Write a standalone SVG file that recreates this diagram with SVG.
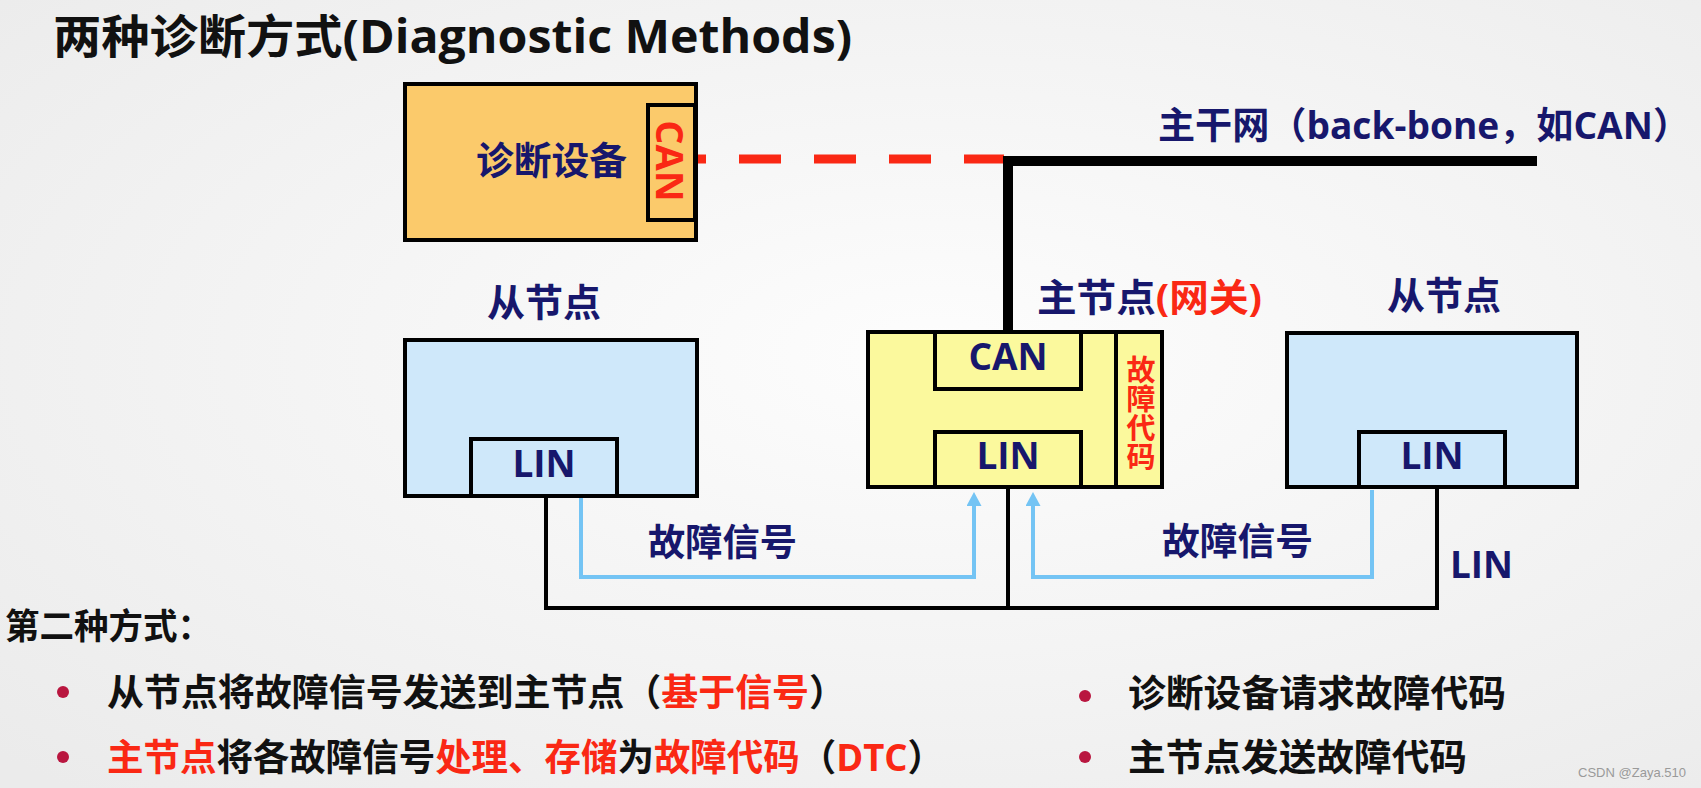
<svg xmlns="http://www.w3.org/2000/svg" width="1701" height="788" viewBox="0 0 1701 788">
<defs>
<radialGradient id="bg" cx="0.55" cy="0.45" r="0.75">
<stop offset="0" stop-color="#fdfdfd"/>
<stop offset="1" stop-color="#ebebeb"/>
</radialGradient>
<marker id="ah" markerUnits="userSpaceOnUse" markerWidth="16" markerHeight="16" refX="0" refY="7.5" orient="auto">
<path d="M0,0 L14,7.5 L0,15 Z" fill="#74c4f4"/>
</marker>
<style>
.t{font-family:"Open Sans","Noto Sans CJK SC",sans-serif;font-weight:bold}
.cjk{font-family:"Noto Sans CJK SC","Open Sans",sans-serif;font-weight:bold}
.navy{fill:#17176c}
.red{fill:#fa2814}
.blk{fill:#111111}
.box{stroke:#000;stroke-width:4}
.dev{fill:#fbca6b}
.mst{fill:#fbf99d}
.slv{fill:#cfe8fa}
.bus{fill:none;stroke:#000;stroke-width:4}
.sig{fill:none;stroke:#74c4f4;stroke-width:4;marker-end:url(#ah)}
.bul{fill:#b9163f}
</style>
</defs>
<rect width="1701" height="788" fill="url(#bg)"/>

<g id="title">
<text class="t blk" x="53" y="53" font-size="46" textLength="799" lengthAdjust="spacingAndGlyphs">两种诊断方式(Diagnostic Methods)</text>
</g>

<g id="connectors">
<line x1="696" y1="159" x2="1004" y2="159" stroke="#fa2814" stroke-width="9" stroke-dasharray="42 33" stroke-dashoffset="32"/>
<path d="M1008 332 V161 H1537" fill="none" stroke="#000" stroke-width="10"/>
<path class="bus" d="M546 498 V608 H1437 V489"/>
<path class="bus" d="M1008 489 V608"/>
<path class="sig" d="M581 498 V577 H974 V506"/>
<path class="sig" d="M1372 490 V577 H1033 V506"/>
</g>

<g id="diag-device">
<rect class="box dev" x="405" y="84" width="291" height="156"/>
<rect class="box dev" x="648" y="105" width="47" height="115"/>
<text class="cjk navy" x="476" y="174" font-size="38" textLength="151" lengthAdjust="spacingAndGlyphs">诊断设备</text>
<text class="t red" transform="translate(656,161) rotate(90)" x="0" y="0" font-size="38" text-anchor="middle">CAN</text>
</g>

<g id="backbone-label">
<text class="t navy" x="1158" y="139" font-size="37" textLength="532" lengthAdjust="spacingAndGlyphs">主干网（back-bone，如CAN）</text>
</g>

<g id="slave-left">
<text class="cjk navy" x="487" y="316" font-size="38" textLength="114" lengthAdjust="spacingAndGlyphs">从节点</text>
<rect class="box slv" x="405" y="340" width="292" height="156"/>
<rect class="box slv" x="471" y="439" width="146" height="57"/>
<text class="t navy" x="544" y="477" font-size="37" text-anchor="middle">LIN</text>
</g>

<g id="master-node">
<text class="t navy" x="1037" y="311" font-size="38" textLength="225" lengthAdjust="spacingAndGlyphs">主节点<tspan class="red">(网关)</tspan></text>
<rect class="box mst" x="868" y="332" width="294" height="155"/>
<rect class="box mst" x="935" y="332" width="146" height="57"/>
<rect class="box mst" x="935" y="432" width="146" height="55"/>
<line x1="1116" y1="332" x2="1116" y2="487" stroke="#000" stroke-width="4"/>
<text class="t navy" x="1008" y="370" font-size="37" text-anchor="middle">CAN</text>
<text class="t navy" x="1008" y="469" font-size="37" text-anchor="middle">LIN</text>
<text class="cjk red" x="1141" y="355" font-size="29" writing-mode="vertical-rl">故障代码</text>
</g>

<g id="slave-right">
<text class="cjk navy" x="1387" y="309" font-size="38" textLength="114" lengthAdjust="spacingAndGlyphs">从节点</text>
<rect class="box slv" x="1287" y="333" width="290" height="154"/>
<rect class="box slv" x="1359" y="432" width="146" height="55"/>
<text class="t navy" x="1432" y="469" font-size="37" text-anchor="middle">LIN</text>
</g>

<g id="labels">
<text class="cjk navy" x="648" y="556" font-size="37" textLength="149" lengthAdjust="spacingAndGlyphs">故障信号</text>
<text class="cjk navy" x="1162" y="555" font-size="37" textLength="151" lengthAdjust="spacingAndGlyphs">故障信号</text>
<text class="t navy" x="1450" y="578" font-size="37" textLength="63" lengthAdjust="spacingAndGlyphs">LIN</text>
</g>

<g id="notes">
<text class="cjk blk" x="5" y="639" font-size="35" textLength="207" lengthAdjust="spacingAndGlyphs">第二种方式：</text>
<circle class="bul" cx="63" cy="692" r="6"/>
<circle class="bul" cx="63" cy="757" r="6"/>
<circle class="bul" cx="1085" cy="696" r="6"/>
<circle class="bul" cx="1085" cy="757" r="6"/>
<text class="t blk" x="107" y="706" font-size="37" textLength="739" lengthAdjust="spacingAndGlyphs">从节点将故障信号发送到主节点（<tspan class="red">基于信号</tspan>）</text>
<text class="t blk" x="107" y="771" font-size="37" textLength="837" lengthAdjust="spacingAndGlyphs"><tspan class="red">主节点</tspan>将各故障信号<tspan class="red">处理、存储</tspan>为<tspan class="red">故障代码</tspan>（<tspan class="red">DTC</tspan>）</text>
<text class="cjk blk" x="1128" y="707" font-size="37" textLength="378" lengthAdjust="spacingAndGlyphs">诊断设备请求故障代码</text>
<text class="cjk blk" x="1128" y="771" font-size="37" textLength="339" lengthAdjust="spacingAndGlyphs">主节点发送故障代码</text>
<text x="1578" y="777" font-family="Liberation Sans, sans-serif" font-size="13" fill="#9a9a9a" textLength="108" lengthAdjust="spacingAndGlyphs">CSDN @Zaya.510</text>
</g>
</svg>
